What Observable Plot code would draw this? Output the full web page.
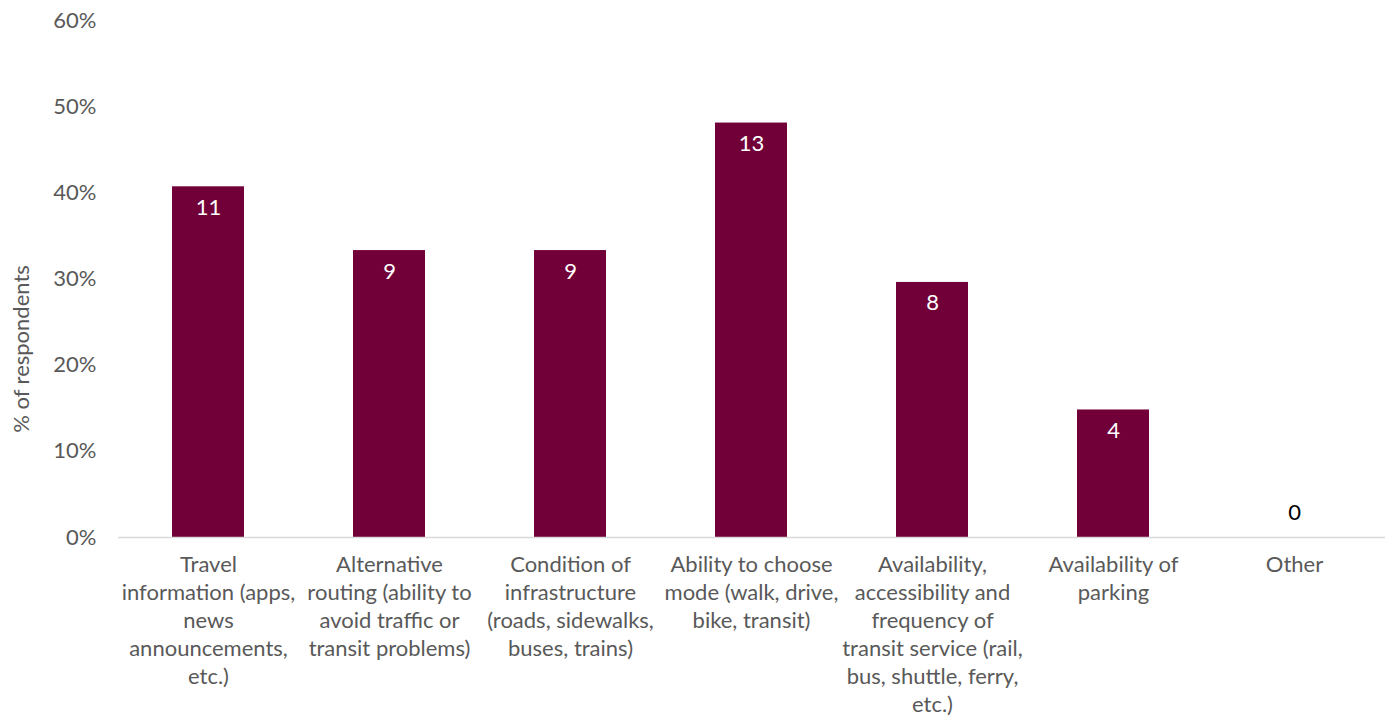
<!DOCTYPE html>
<html>
<head>
<meta charset="utf-8">
<script src="https://cdn.jsdelivr.net/npm/d3@7"></script>
<script src="https://cdn.jsdelivr.net/npm/@observablehq/plot@0.6"></script>
<style>
  html, body { margin: 0; padding: 0; background: #fff; }
  #chart svg { display: block; }
</style>
</head>
<body>
<div id="chart"></div>
<script>
const categories = [
  "Travel\ninformation (apps,\nnews\nannouncements,\netc.)",
  "Alternative\nrouting (ability to\navoid traffic or\ntransit problems)",
  "Condition of\ninfrastructure\n(roads, sidewalks,\nbuses, trains)",
  "Ability to choose\nmode (walk, drive,\nbike, transit)",
  "Availability,\naccessibility and\nfrequency of\ntransit service (rail,\nbus, shuttle, ferry,\netc.)",
  "Availability of\nparking",
  "Other"
];
const percents = [40.7, 33.3, 33.3, 48.1, 29.6, 14.8, 0];
const counts = [11, 9, 9, 13, 8, 4, 0];
const yTicks = [0, 10, 20, 30, 40, 50, 60];
const yLabel = "% of respondents";

const data = categories.map((c, i) => ({category: c, pct: percents[i], count: counts[i]}));

const font = "Lato, 'Open Sans', sans-serif";
const chart = Plot.plot({
  width: 1392,
  height: 720,
  marginLeft: 118,
  marginRight: 7,
  marginTop: 20,
  marginBottom: 183,
  style: {fontFamily: font, fontSize: "22px", color: "#595959", background: "#fff"},
  x: {domain: categories, paddingInner: 0.6, paddingOuter: 0.3},
  y: {domain: [0, 60]},
  marks: [
    Plot.axisY({
      ticks: yTicks,
      tickFormat: d => d + "%",
      tickSize: 0,
      tickPadding: 22,
      fontSize: 22,
      fill: "#595959",
      label: null
    }),
    Plot.text([yLabel], {
      frameAnchor: "left",
      textAnchor: "middle",
      text: d => d,
      rotate: -90,
      dx: -97,
      dy: 70,
      fontSize: 22,
      fill: "#595959"
    }),
    Plot.axisX({
      tickSize: 0,
      tickPadding: 15,
      fontSize: 22,
      lineHeight: 1.27,
      fill: "#595959",
      label: null
    }),
    Plot.barY(data, {x: "category", y: "pct", fill: "#720038"}),
    Plot.ruleY([0], {stroke: "#d9d9d9", strokeWidth: 1.5}),
    Plot.text(data.filter(d => d.count > 0), {
      x: "category", y: "pct", text: d => String(d.count),
      dy: 21, fill: "#ffffff", fontSize: 22
    }),
    Plot.text(data.filter(d => d.count === 0), {
      x: "category", y: "pct", text: d => String(d.count),
      dy: -25, fill: "#000000", fontSize: 22
    })
  ]
});
document.getElementById("chart").appendChild(chart);
</script>
</body>
</html>
